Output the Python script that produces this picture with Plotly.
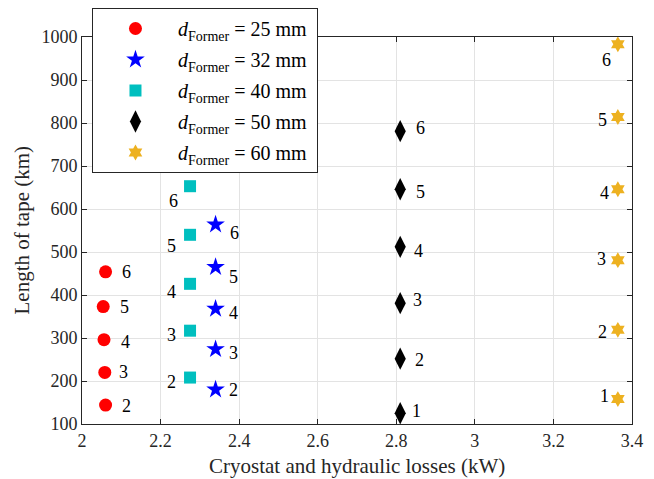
import plotly.graph_objects as go

# ---- data ----
diam_labels = ["25", "32", "40", "50", "60"]

x25 = [2.060, 2.058, 2.056, 2.054, 2.060]
y25 = [144, 220, 296, 373, 454]
n25 = [2, 3, 4, 5, 6]

x32 = [2.340, 2.340, 2.340, 2.340, 2.340]
y32 = [180, 274, 368, 465, 564]
n32 = [2, 3, 4, 5, 6]

x40 = [2.275, 2.275, 2.275, 2.275, 2.275]
y40 = [208, 317, 426, 540, 653]
n40 = [2, 3, 4, 5, 6]

x50 = [2.810, 2.810, 2.810, 2.810, 2.810, 2.810]
y50 = [125, 252, 381, 512, 646, 781]
n50 = [1, 2, 3, 4, 5, 6]

x60 = [3.364, 3.364, 3.364, 3.364, 3.364, 3.364]
y60 = [158, 319, 481, 646, 814, 983]
n60 = [1, 2, 3, 4, 5, 6]

x_ticks = [2, 2.2, 2.4, 2.6, 2.8, 3, 3.2, 3.4]
x_tick_text = ["2", "2.2", "2.4", "2.6", "2.8", "3", "3.2", "3.4"]
y_ticks = [100, 200, 300, 400, 500, 600, 700, 800, 900, 1000]

x_title = "Cryostat and hydraulic losses (kW)"
y_title = "Length of tape (km)"

FONT = "Liberation Serif, Times New Roman, serif"

series = [
    dict(x=x25, y=y25, n=n25, sym="circle", color="#FF0000", size=13,
         dx=[21, 19, 21, 21, 21], dy=[-1, 0, -2, 0, 0]),
    dict(x=x32, y=y32, n=n32, sym="star", color="#0000FF", size=14,
         dx=[18, 18, 18, 18, 19], dy=[0, -4, -4, -10, -9]),
    dict(x=x40, y=y40, n=n40, sym="square", color="#00BFBF", size=12,
         dx=[-19, -19, -19, -19, -17], dy=[-4, -4, -8, -11, -15]),
    dict(x=x50, y=y50, n=n50, sym="diamond-tall", color="#000000", size=16,
         dx=[16, 19, 17, 18, 20, 20], dy=[2, -1, 3, -4, -3, 3]),
    dict(x=x60, y=y60, n=n60, sym="hexagram", color="#EDB120", size=12,
         dx=[-13, -15, -16, -13, -15, -11], dy=[3, -2, 1, -4, -3, -16]),
]

fig = go.Figure()
annotations = []
for lab, s in zip(diam_labels, series):
    fig.add_trace(go.Scatter(
        x=s["x"], y=s["y"], mode="markers",
        name=f"<i>d</i><sub>Former</sub> = {lab} mm&nbsp;",
        legendgroup=lab,
        marker=dict(symbol=s["sym"], color=s["color"], size=s["size"],
                    line=dict(width=0)),
    ))
    for xi, yi, ni, dx, dy in zip(s["x"], s["y"], s["n"], s["dx"], s["dy"]):
        annotations.append(dict(
            x=xi, y=yi, text=str(ni), showarrow=False,
            xshift=dx, yshift=dy, xref="x", yref="y",
            font=dict(family=FONT, size=18, color="#000000"),
        ))

# axis titles as annotations (positions relative to plot area)
annotations.append(dict(
    x=0.5, y=0, xref="paper", yref="paper", text=x_title, showarrow=False,
    xanchor="center", yanchor="middle", yshift=-42,
    font=dict(family=FONT, size=21, color="#262626"),
))
annotations.append(dict(
    x=0, y=0.5, xref="paper", yref="paper", text=y_title, showarrow=False,
    xanchor="center", yanchor="middle", xshift=-61, textangle=-90,
    font=dict(family=FONT, size=21, color="#262626"),
))

axis_common = dict(
    showline=True, linecolor="#262626", linewidth=1, mirror="ticks",
    ticks="inside", ticklen=5, tickwidth=1, tickcolor="#262626",
    showgrid=True, gridcolor="#E3E3E3", gridwidth=1, zeroline=False,
    automargin=False,
    tickfont=dict(family=FONT, size=18, color="#262626"),
)

# page body has an 8px margin: figure is 646x471 placed at (8, 8)
fig.update_layout(
    width=646, height=471,
    margin=dict(l=74, r=22, t=29, b=55, autoexpand=False),
    paper_bgcolor="white", plot_bgcolor="white",
    font=dict(family=FONT, color="#262626"),
    annotations=annotations,
    showlegend=True,
    legend=dict(
        xref="container", yref="container",
        x=0.13, y=1.0, xanchor="left", yanchor="top",
        bgcolor="white", bordercolor="#262626", borderwidth=1,
        font=dict(family=FONT, size=20, color="#000000"),
        itemwidth=75, traceorder="grouped", tracegroupgap=2,
    ),
    xaxis=dict(range=[2, 3.4], tickvals=x_ticks, ticktext=x_tick_text,
               **axis_common),
    yaxis=dict(range=[100, 1000], tickvals=y_ticks,
               **axis_common),
)

fig.write_html("out.html")
